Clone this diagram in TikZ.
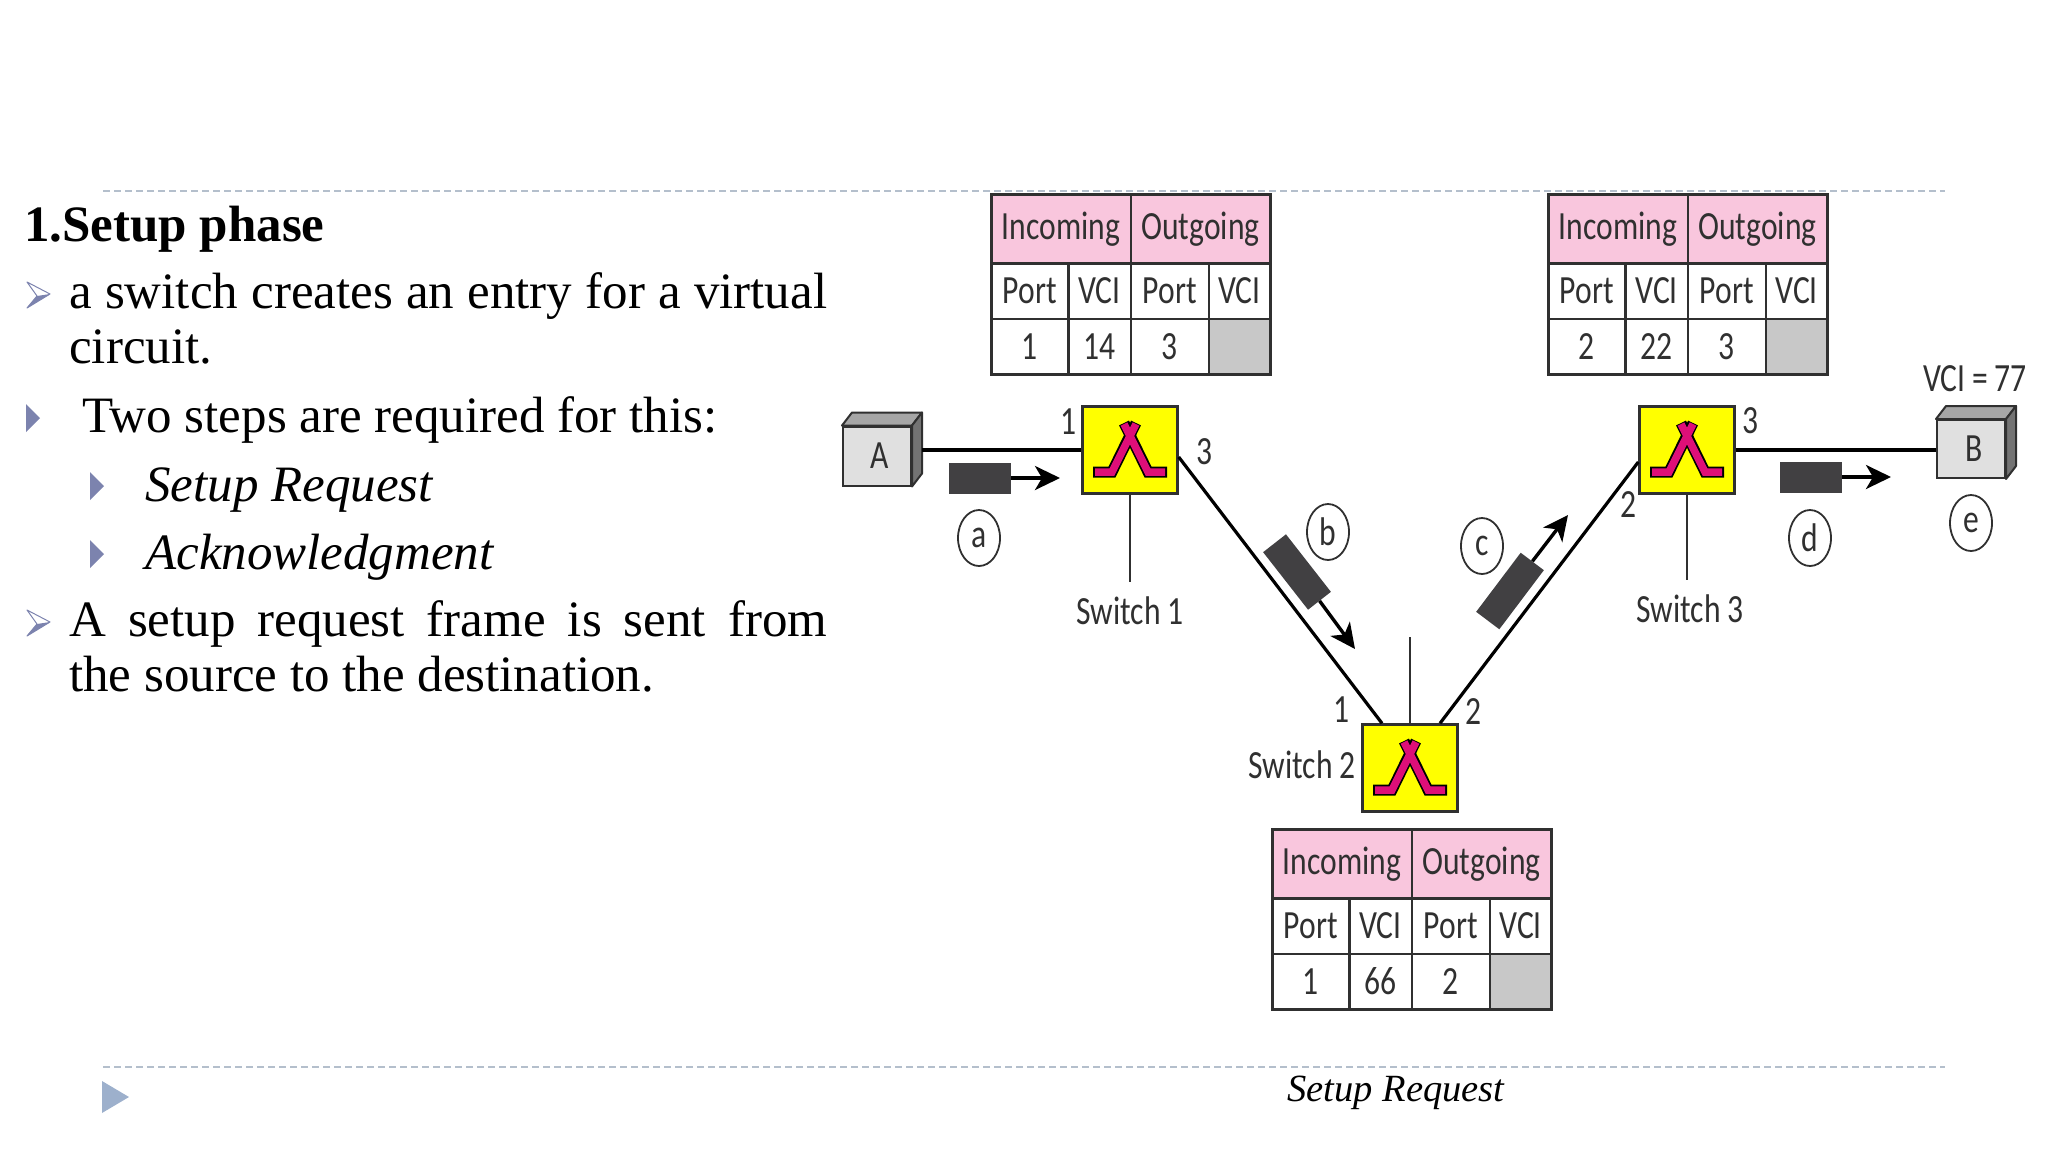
\documentclass[tikz,border=0pt]{standalone}
\usepackage{fontspec}
\setmainfont{Liberation Serif}
\newfontfamily\figfont[FakeStretch=0.79]{Carlito}
\usetikzlibrary{arrows.meta, positioning, shapes.geometric, calc}
\definecolor{vcpink}{HTML}{F9C6DD}
\definecolor{vcyellow}{HTML}{FFFF00}
\definecolor{vcmagenta}{HTML}{DE0F78}
\definecolor{vcgray}{HTML}{C8C8C8}
\definecolor{vcpacket}{HTML}{414042}
\definecolor{vcink}{HTML}{303030}
\definecolor{vcrule}{HTML}{B4BFCC}
\definecolor{vcbullet}{HTML}{7C83AE}
\definecolor{vcplay}{HTML}{9DB0CC}
\newcommand{\figsize}{\figfont\fontsize{40}{42}\selectfont}
\newcommand{\bodysize}{\fontsize{51}{55}\selectfont\hyphenpenalty=10000\tolerance=9999}
\tikzset{
  cell/.style={draw=vcink, line width=2.6pt, inner sep=0pt, anchor=north west, minimum height=55.5pt, font=\figsize, text=vcink},
  headcell/.style={cell, fill=vcpink, minimum height=69pt, minimum width=139.5pt},
  switchbox/.style={draw=vcink, line width=2.4pt, fill=vcyellow, minimum width=95pt, minimum height=87pt},
  hostbox/.style={draw=vcink, line width=2pt, fill=black!12, inner sep=0pt, font=\figsize, text=vcink},
  link/.style={line width=3.2pt, black},
  stub/.style={line width=2.8pt, vcink},
  packet/.style={fill=vcpacket, inner sep=0pt, minimum width=62pt, minimum height=31pt},
  flow/.style={line width=3.4pt, black, -{Stealth[length=25pt, width=24pt, inset=7pt]}},
  stepmark/.style={draw=vcink, line width=1.8pt, ellipse, inner sep=0pt, minimum width=42pt, minimum height=56pt, font=\figsize, text=vcink},
  figlabel/.style={font=\figsize, text=vcink, inner sep=0pt},
  bodyline/.style={font=\bodysize, inner sep=0pt, anchor=base west},
  bodypara/.style={font=\bodysize, inner sep=0pt, anchor=north west, text width=758pt, align=justify},
}
\newcommand{\vctable}[6]{
  \begin{scope}[shift={(#2,#3)}]
    \node[headcell] (#1in) at (0,0) {Incoming};
    \node[headcell] (#1out) at (139.5,0) {Outgoing};
    \foreach \xpos/\wid/\txt [count=\i] in {0/77/Port,77/62.5/VCI,139.5/78/Port,217.5/61.5/VCI} {
      \node[cell, minimum width=\wid pt] (#1h\i) at (\xpos,69) {\txt};
    }
    \foreach \xpos/\wid/\txt [count=\i] in {0/77/#4,77/62.5/#5,139.5/78/#6} {
      \node[cell, minimum width=\wid pt] (#1v\i) at (\xpos,124.5) {\txt};
    }
    \node[cell, fill=vcgray, minimum width=61.5pt] (#1v4) at (217.5,124.5) {};
  \end{scope}
}
\newcommand{\arrowbullet}[2]{
  \begin{scope}[shift={(#1,#2)}]
    \fill[vcbullet] (0,26) -- (23,12) -- (10,14) -- cycle;
    \draw[vcbullet, line width=1pt, line join=round] (0,0) -- (23,12) -- (0,26) -- (10,14) -- cycle;
  \end{scope}
}
\newcommand{\playbullet}[2]{
  \fill[vcbullet] (#1,#2) -- ++(14,14) -- ++(-14,14) -- cycle;
}
\begin{document}
\begin{tikzpicture}[x=1pt, y=-1pt]
\useasboundingbox (0,0) rectangle (2048,1152);
% Slide rules
\draw[vcrule, line width=1.6pt, dash pattern=on 7pt off 4pt] (103,191) -- (1945,191);
\draw[vcrule, line width=1.6pt, dash pattern=on 7pt off 4pt] (103,1067) -- (1945,1067);
\fill[vcplay] (102,1081) -- (129,1097) -- (102,1113) -- cycle;
% Slide text
\node[bodyline, font=\bodysize\bfseries] (title) at (24,241) {1.Setup phase};
\node[bodypara] (para1) at (69,272.5) {a switch creates an entry for a virtual circuit.};
\node[bodyline] (para2) at (82,432) {Two steps are required for this:};
\node[bodyline, font=\bodysize\itshape] (sub1) at (145,501) {Setup Request};
\node[bodyline, font=\bodysize\itshape] (sub2) at (145,569) {Acknowledgment};
\node[bodypara] (para3) at (69,600.5) {A setup request frame is sent from\linebreak the source to the destination.};
\arrowbullet{27}{282}
\playbullet{26}{404}
\playbullet{90}{472}
\playbullet{90}{540}
\arrowbullet{27}{610}
\node[font=\fontsize{38.5}{40}\selectfont\itshape, inner sep=0pt] (caption) at (1396,1093) {Setup Request};
% Tables
\vctable{taba}{990}{193}{1}{14}{3}
\vctable{tabb}{1271}{828}{1}{66}{2}
\vctable{tabc}{1547}{193}{2}{22}{3}
% Switches and hosts
\node[switchbox] (swa) at (1130,450) {};
\node[switchbox] (swb) at (1410,768) {};
\node[switchbox] (swc) at (1687,450) {};
\node[hostbox, minimum width=68pt, minimum height=59pt] (hosta) at (877,456) {\hspace*{6pt}A};
\node[hostbox, minimum width=68pt, minimum height=58pt] (hostb) at (1971,449) {\hspace*{6pt}B};
\foreach \hh in {hosta,hostb} {
  \draw[vcink, line width=2pt, line join=round, fill=black!35] (\hh.north west) -- ([shift={(10,-13)}]\hh.north west) -- ([shift={(10,-13)}]\hh.north east) -- (\hh.north east) -- cycle;
  \draw[vcink, line width=2pt, line join=round, fill=black!55] (\hh.north east) -- ([shift={(10,-13)}]\hh.north east) -- ([shift={(10,-13)}]\hh.south east) -- (\hh.south east) -- cycle;
}
\foreach \sw in {swa,swb,swc} {
  \begin{scope}[shift={(\sw.center)}]
    \draw[black, line width=11pt, line join=miter] (-37,22) -- (-18,22) -- (6,-27);
    \draw[black, line width=11pt, line join=miter] (37,22) -- (18,22) -- (-6,-27);
    \draw[vcmagenta, line width=7.5pt, line join=miter] (-35,22) -- (-18,22) -- (6,-26);
    \draw[vcmagenta, line width=7.5pt, line join=miter] (35,22) -- (18,22) -- (-6,-26);
  \end{scope}
}
% Links
\draw[link] ([xshift=10pt]hosta.east |- swa.west) -- (swa.west);
\draw[link] (swc.east) -- (hostb.west |- swc.east);
\draw[link] ([yshift=-7pt]swa.east) -- ([xshift=-28pt]swb.north);
\draw[link] ([xshift=30pt]swb.north) -- ([yshift=-12pt]swc.west);
\coordinate (stuba) at (1130,582);
\coordinate (stubb) at (1410,637);
\coordinate (stubc) at (1687,580);
\draw[stub] (swa.south) -- (stuba);
\draw[stub] (swb.north) -- (stubb);
\draw[stub] (swc.south) -- (stubc);
% Packets
\node[packet] (packa) at (980,478) {};
\node[packet] (packd) at (1811,477) {};
\node[packet, rotate=-52, minimum width=73pt, minimum height=29pt] (packb) at (1297,572) {};
\node[packet, rotate=53, minimum width=74pt, minimum height=29pt] (packc) at (1510,591) {};
\coordinate (tipa) at (1060,478);
\coordinate (tipb) at (1355,649);
\coordinate (tipc) at (1568,515);
\coordinate (tipd) at (1891,477);
\draw[flow] (packa.east) -- (tipa);
\draw[flow] (packb.east) -- (tipb);
\draw[flow] (packc.east) -- (tipc);
\draw[flow] (packd.east) -- (tipd);
% Step marks
\node[stepmark] (stepa) at (979,538) {a};
\node[stepmark] (stepb) at (1328,532) {b};
\node[stepmark] (stepc) at (1482,546) {c};
\node[stepmark] (stepd) at (1810,538) {d};
\node[stepmark] (stepe) at (1971,523) {e};
% Labels
\node[figlabel] (lbla) at (1130,611) {Switch\,1};
\node[figlabel] (lblb) at (1302,765) {Switch\,2};
\node[figlabel] (lblc) at (1690,609) {Switch\,3};
\node[figlabel] (lblv) at (1975,379) {VCI\,=\,77};
\node[figlabel] (porta1) at (1068,422) {1};
\node[figlabel] (porta3) at (1204,452) {3};
\node[figlabel] (portb1) at (1341,710) {1};
\node[figlabel] (portb2) at (1473,712) {2};
\node[figlabel] (portc2) at (1628,505) {2};
\node[figlabel] (portc3) at (1750,421) {3};
\end{tikzpicture}
\end{document}
